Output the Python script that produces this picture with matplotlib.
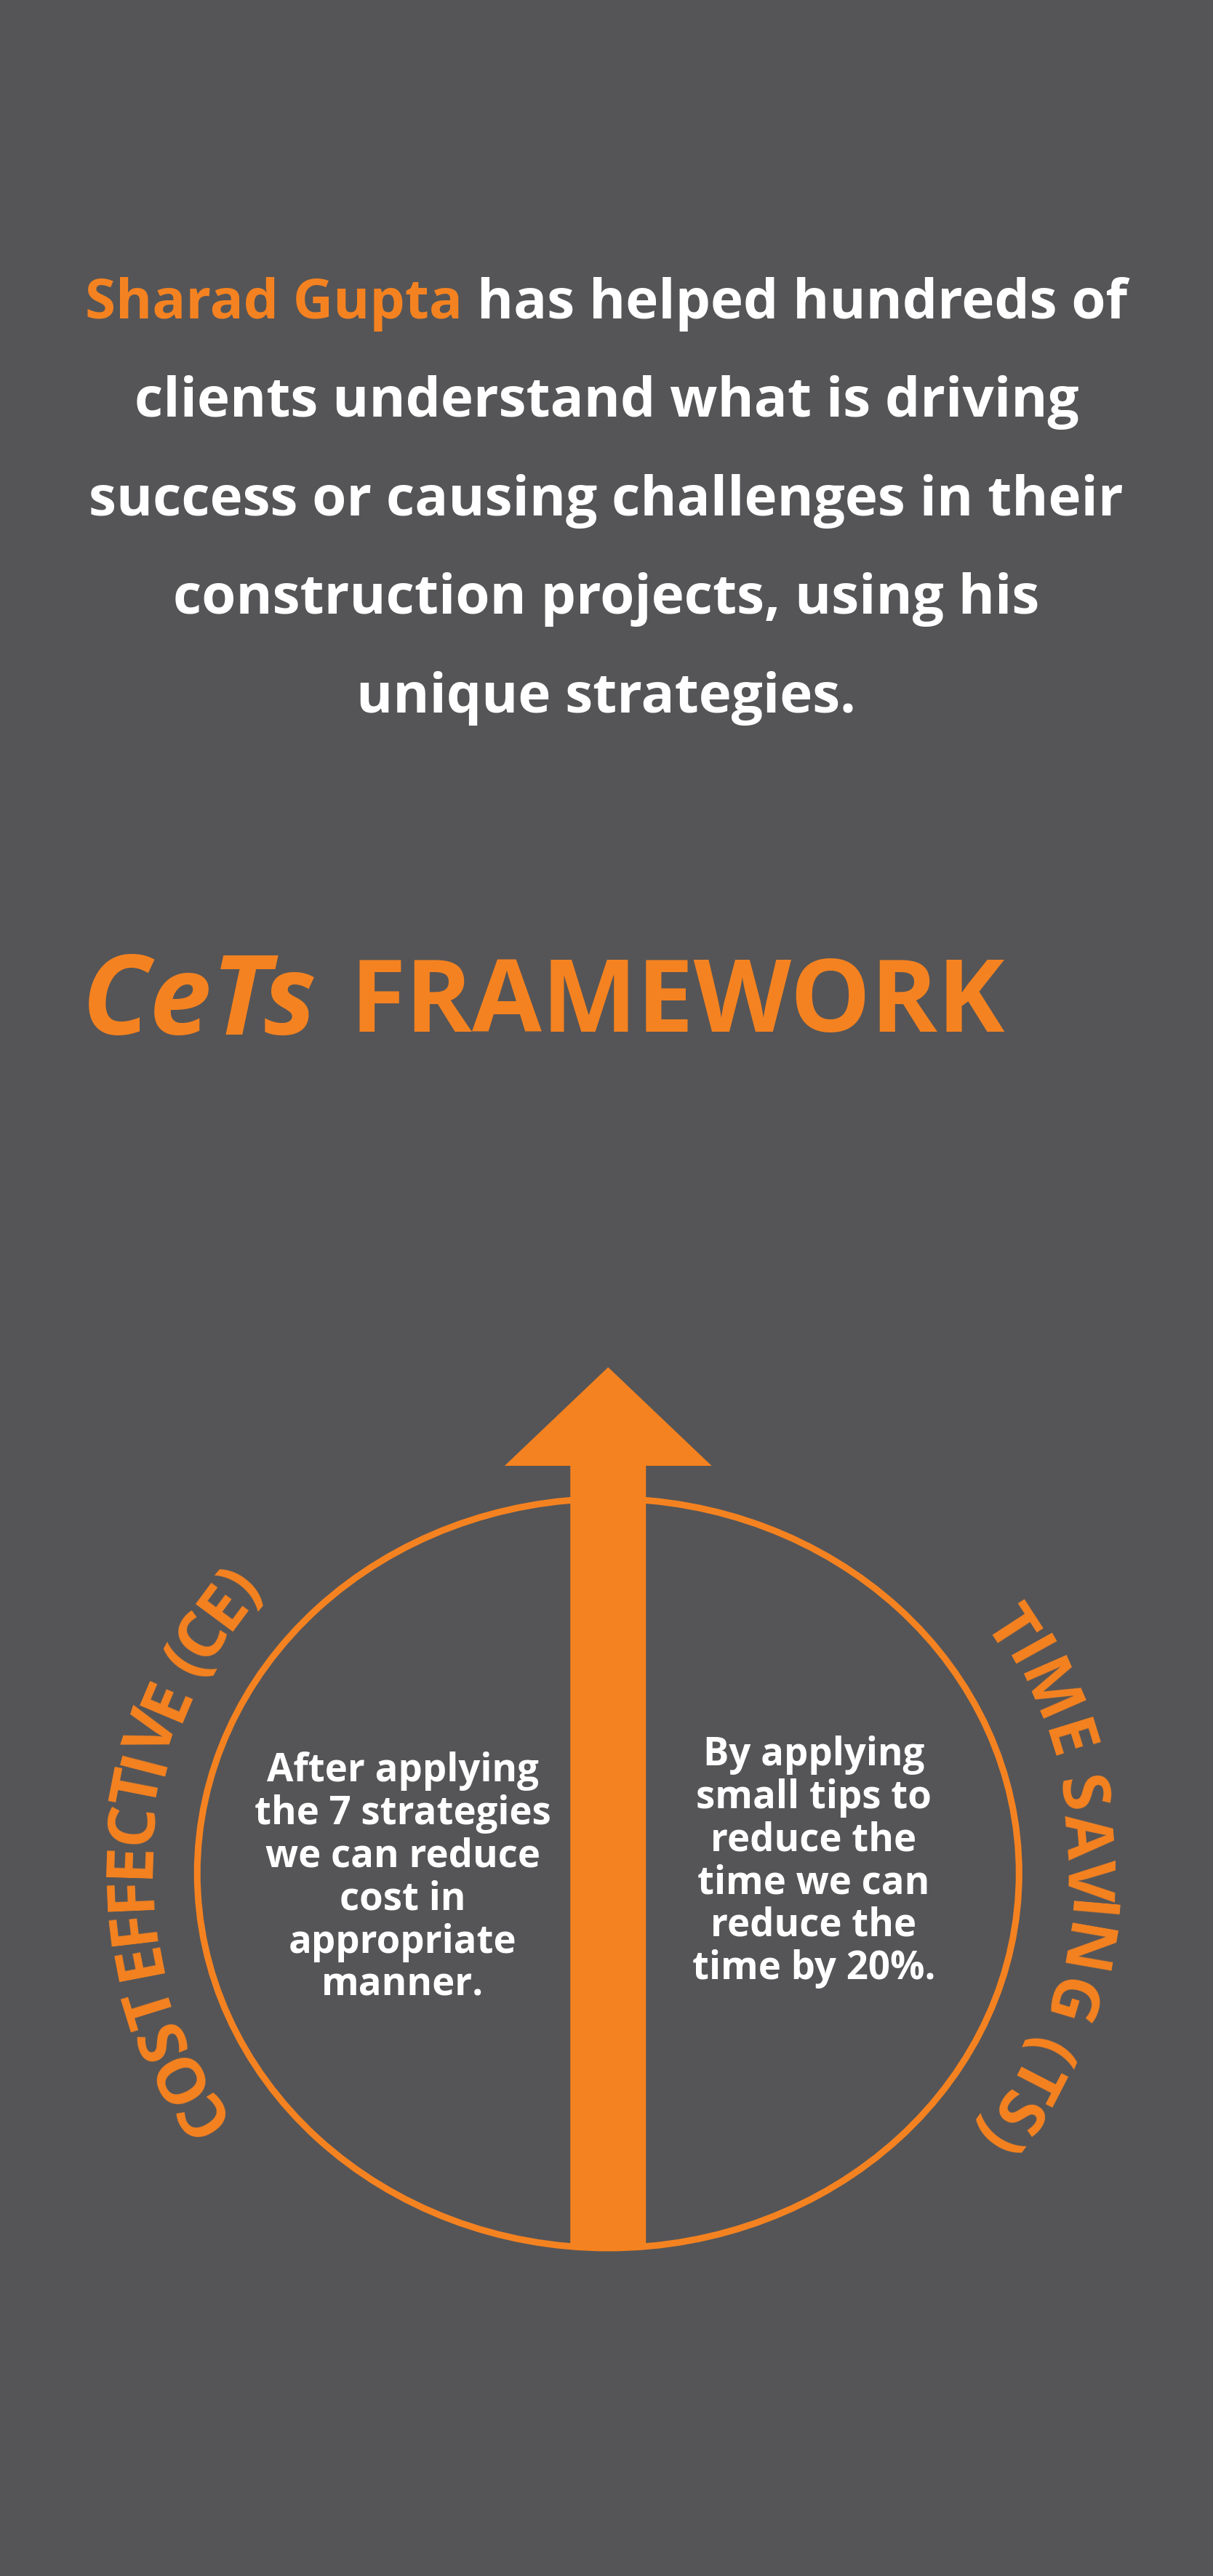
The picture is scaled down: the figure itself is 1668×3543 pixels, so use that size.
import numpy as np
import matplotlib.pyplot as plt
from matplotlib.patches import Ellipse, Polygon
from matplotlib.textpath import TextPath
from matplotlib.font_manager import FontProperties

BG = "#555557"
ORANGE = "#F58220"
WHITE = "#FFFFFF"
FONT = "Open Sans"

S = 1668 / 738  # reference layout measured at 738 px wide

HEADER_LINES = [
    [("Sharad Gupta", ORANGE), (" has helped hundreds of", WHITE)],
    [("clients understand what is driving", WHITE)],
    [("success or causing challenges in their", WHITE)],
    [("construction projects, using his", WHITE)],
    [("unique strategies.", WHITE)],
]
LEFT_TEXT = ["After applying", "the 7 strategies", "we can reduce", "cost in",
             "appropriate", "manner."]
RIGHT_TEXT = ["By applying", "small tips to", "reduce the", "time we can",
              "reduce the", "time by 20%."]
LEFT_ARC = "COST EFFECTIVE (CE)"
RIGHT_ARC = "TIME SAVING (TS)"

fig = plt.figure(figsize=(16.68, 35.43), dpi=100)
fig.patch.set_facecolor(BG)
ax = fig.add_axes([0, 0, 1, 1])
ax.set_xlim(0, 1668)
ax.set_ylim(3543, 0)
ax.axis("off")
ax.set_facecolor(BG)

px_per_pt = 100 / 72


def adv_width(s, fp):
    # advance width incl. spaces: measure with a trailing "I" and subtract it
    if not s:
        return 0.0
    wi = TextPath((0, 0), "I", prop=fp).get_extents().x1
    return TextPath((0, 0), s + "I", prop=fp).get_extents().x1 - wi


# header paragraph
hsize = 55
fp_b = FontProperties(family=FONT, weight="bold", size=hsize)
for i, parts in enumerate(HEADER_LINES):
    y = (185 + 60 * i) * S
    widths = [adv_width(t, fp_b) * px_per_pt for t, _ in parts]
    x = 1668 / 2 - sum(widths) / 2
    for (t, c), w in zip(parts, widths):
        ax.text(x, y, t, color=c, fontsize=hsize, fontweight="bold", family=FONT,
                ha="left", va="center")
        x += w

# title
ax.text(50 * S, 612 * S, "CeTs", color=ORANGE, fontsize=110, fontweight="bold",
        fontstyle="italic", family=FONT, ha="left", va="center")
ax.text(213 * S, 612 * S, "FRAMEWORK", color=ORANGE, fontsize=100,
        fontweight="bold", family=FONT, ha="left", va="center")

cx, cy = 370 * S, 1140 * S
ax.add_patch(Ellipse((cx, cy), 2 * 250 * S, 2 * 228 * S, fill=False,
                     edgecolor=ORANGE, linewidth=6.5))

# arrow
sx0, sx1 = 347 * S, 393 * S
ax.add_patch(Polygon([(sx0, 1368 * S), (sx1, 1368 * S), (sx1, 892 * S),
                      (433 * S, 892 * S), (370 * S, 832 * S), (307 * S, 892 * S),
                      (sx0, 892 * S)], closed=True, facecolor=ORANGE, edgecolor="none"))

# inner texts
for i, t in enumerate(LEFT_TEXT):
    ax.text(245 * S, (1078 + 26 * i) * S, t, color=WHITE, fontsize=38,
            fontweight="bold", family=FONT, ha="center", va="center")
for i, t in enumerate(RIGHT_TEXT):
    ax.text(495 * S, (1068 + 26 * i) * S, t, color=WHITE, fontsize=38,
            fontweight="bold", family=FONT, ha="center", va="center")

# curved labels
asize = 64
fp_a = FontProperties(family=FONT, weight="bold", size=asize)


def arc_text(text, a0, a1, rx, ry):
    centers = np.array([(adv_width(text[:i], fp_a) + adv_width(text[:i + 1], fp_a)) / 2
                        for i in range(len(text))])
    frac = (centers - centers[0]) / (centers[-1] - centers[0])
    for ch, f in zip(text, frac):
        if ch == " ":
            continue
        th = np.radians(a0 + (a1 - a0) * f)
        x = cx + rx * np.cos(th)
        y = cy - ry * np.sin(th)
        ax.text(x, y, ch, color=ORANGE, fontsize=asize, fontweight="bold", family=FONT,
                rotation=np.degrees(th) - 90, rotation_mode="anchor",
                ha="center", va="center")


arc_text(LEFT_ARC, 212, 140, 290 * S, 272 * S)
arc_text(RIGHT_ARC, 33, -36, 290 * S, 272 * S)

fig.savefig("out.png", dpi=100, facecolor=BG)
